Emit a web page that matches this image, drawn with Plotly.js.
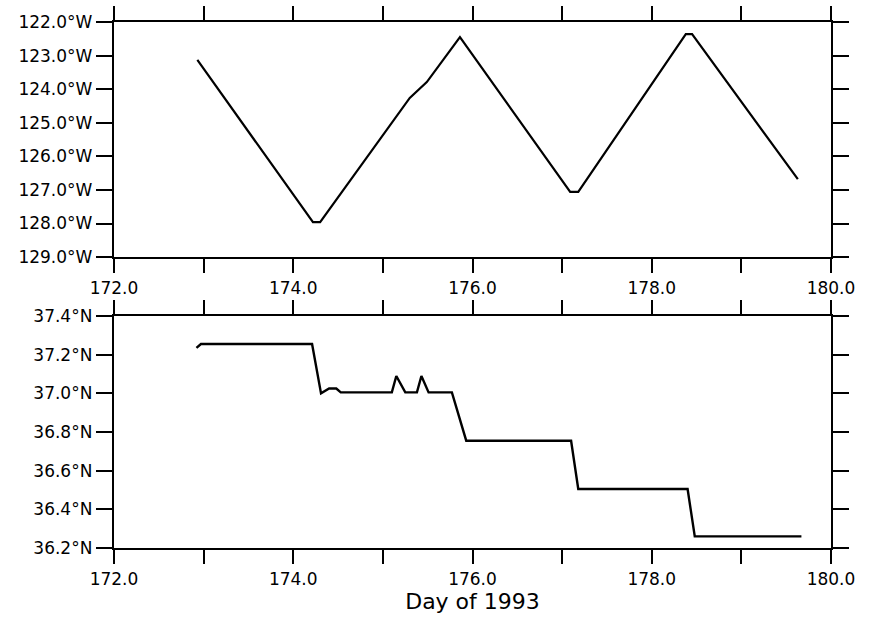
<!DOCTYPE html>
<html>
<head>
<meta charset="utf-8">
<script src="https://cdn.plot.ly/plotly-3.0.1.min.js"></script>
<style>html,body{margin:0;padding:0;background:#fff;}#chart{width:880px;height:625px;}</style>
</head>
<body>
<div id="chart"></div>
<script>
// Longitude track (degrees, negative = West)
var lonDays = [172.93, 174.22, 174.30, 175.08, 175.30, 175.49, 175.86, 177.09, 177.18, 178.38, 178.45, 179.63];
var lonVals = [-123.13, -127.96, -127.96, -125.07, -124.26, -123.79, -122.45, -127.06, -127.06, -122.36, -122.36, -126.68];

// Latitude track (degrees North)
var latDays = [172.92, 172.97, 174.21, 174.31, 174.40, 174.48, 174.53, 175.10, 175.15, 175.25, 175.38, 175.43, 175.51, 175.77, 175.93, 177.10, 177.18, 178.40, 178.48, 179.67];
var latVals = [37.235, 37.255, 37.255, 37.0, 37.025, 37.025, 37.005, 37.005, 37.09, 37.005, 37.005, 37.09, 37.005, 37.005, 36.755, 36.755, 36.505, 36.505, 36.26, 36.26];

// Tick labels
var dayTicks = [172, 173, 174, 175, 176, 177, 178, 179, 180];
var dayLabels = ['172.0', '', '174.0', '', '176.0', '', '178.0', '', '180.0'];
var lonTicks = [-122, -123, -124, -125, -126, -127, -128, -129];
var lonLabels = ['122.0°W', '123.0°W', '124.0°W', '125.0°W', '126.0°W', '127.0°W', '128.0°W', '129.0°W'];
var latTicks = [37.4, 37.2, 37.0, 36.8, 36.6, 36.4, 36.2];
var latLabels = ['37.4°N', '37.2°N', '37.0°N', '36.8°N', '36.6°N', '36.4°N', '36.2°N'];
var xTitle = 'Day of 1993';

var fnt = {family: 'DejaVu Sans, sans-serif', size: 17, color: '#000'};

var traces = [
  {x: lonDays, y: lonVals, type: 'scatter', mode: 'lines', xaxis: 'x', yaxis: 'y',
   line: {color: '#000', width: 2.2}, hoverinfo: 'skip'},
  {x: latDays, y: latVals, type: 'scatter', mode: 'lines', xaxis: 'x2', yaxis: 'y2',
   line: {color: '#000', width: 2.4}, hoverinfo: 'skip'}
];

function xa(anchor, withTitle) {
  var a = {
    range: [172, 180], anchor: anchor, domain: [0, 1],
    showline: true, linewidth: 2.2, linecolor: '#000', mirror: 'ticks',
    ticks: 'outside', ticklen: 14, tickwidth: 2, tickcolor: '#000',
    tickmode: 'array', tickvals: dayTicks, ticktext: dayLabels,
    showgrid: false, zeroline: false, tickfont: fnt
  };
  if (withTitle) a.title = {text: xTitle, font: {family: 'DejaVu Sans, sans-serif', size: 22, color: '#000'}, standoff: 6};
  return a;
}
function ya(anchor, dom, rng, tv, tt) {
  return {
    range: rng, anchor: anchor, domain: dom,
    showline: true, linewidth: 2.2, linecolor: '#000', mirror: 'ticks',
    ticks: 'outside', ticklen: 16, tickwidth: 2, tickcolor: '#000',
    tickmode: 'array', tickvals: tv, ticktext: tt,
    showgrid: false, zeroline: false, tickfont: fnt
  };
}

var layout = {
  width: 880, height: 625,
  margin: {l: 114, r: 49, t: 22, b: 77},
  paper_bgcolor: '#fff', plot_bgcolor: '#fff',
  showlegend: false,
  xaxis: xa('y', false),
  yaxis: ya('x', [0.553, 1], [-129, -122], lonTicks, lonLabels),
  xaxis2: xa('y2', true),
  yaxis2: ya('x2', [0, 0.441], [36.2, 37.4], latTicks, latLabels)
};

Plotly.newPlot('chart', traces, layout, {staticPlot: true, displayModeBar: false});
</script>
</body>
</html>
